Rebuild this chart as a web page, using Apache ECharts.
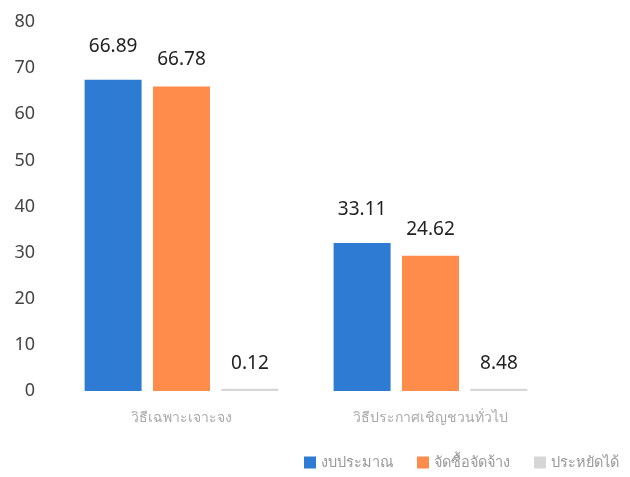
<!DOCTYPE html>
<html><head><meta charset="utf-8">
<script src="https://cdn.jsdelivr.net/npm/echarts@6/dist/echarts.min.js"></script>
<style>html,body{margin:0;padding:0;background:#fff}#c{width:630px;height:477px}</style>
</head><body><div id="c"></div>
<script>
const categories = ['วิธีเฉพาะเจาะจง', 'วิธีประกาศเชิญชวนทั่วไป'];
const seriesNames = ['งบประมาณ', 'จัดซื้อจัดจ้าง', 'ประหยัดได้'];
const budgetHeights = [67.5, 32.1];
const procureHeights = [66.0, 29.3];
const savedHeights = [0.5, 0.5];
const budgetLabels = ['66.89', '33.11'];
const procureLabels = ['66.78', '24.62'];
const savedLabels = ['0.12', '8.48'];
const yTicks = [0, 10, 20, 30, 40, 50, 60, 70, 80];

const colors = ['#2E7BD3', '#FF8C4B', '#D6D6D6'];
const font = 'Noto Sans, DejaVu Sans, sans-serif';

function mk(name, vals, labels, color, dist) {
  return {
    name: name, type: 'bar', barWidth: 57, barGap: '20%',
    itemStyle: { color: color },
    data: vals,
    label: {
      show: true, position: 'top', distance: dist,
      formatter: p => labels[p.dataIndex],
      color: '#222', fontSize: 19, fontFamily: font
    }
  };
}

const chart = echarts.init(document.getElementById('c'));
chart.setOption({
  animation: false,
  color: colors,
  grid: { left: 57, right: 75, top: 22, bottom: 86, containLabel: false },
  legend: {
    right: 6, bottom: 2, itemWidth: 12, itemHeight: 12, itemGap: 24,
    icon: 'rect',
    textStyle: { color: '#999', fontSize: 14.5, fontFamily: font },
    data: seriesNames
  },
  xAxis: {
    type: 'category', data: categories,
    axisLine: { show: false }, axisTick: { show: false },
    axisLabel: { color: '#aaa', fontSize: 14, margin: 20, fontFamily: font }
  },
  yAxis: {
    type: 'value', min: 0, max: 80, interval: 10,
    splitLine: { show: false }, axisLine: { show: false }, axisTick: { show: false },
    axisLabel: { color: '#444', fontSize: 18, margin: 22, fontFamily: font,
      formatter: v => yTicks.includes(v) ? String(v) : '' }
  },
  series: [
    mk(seriesNames[0], budgetHeights, budgetLabels, colors[0], 24),
    mk(seriesNames[1], procureHeights, procureLabels, colors[1], 17),
    mk(seriesNames[2], savedHeights, savedLabels, colors[2], 16)
  ]
});
</script></body></html>
